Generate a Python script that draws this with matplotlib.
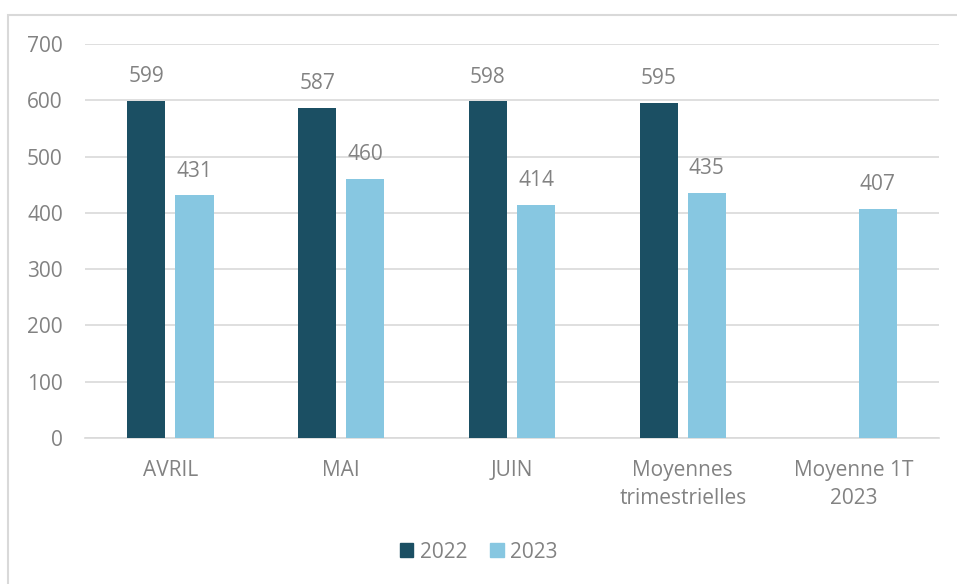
import matplotlib
matplotlib.use("Agg")
import matplotlib.pyplot as plt
import numpy as np
from matplotlib.patches import Rectangle, Patch

categories = ["AVRIL", "MAI", "JUIN", "Moyennes\ntrimestrielles", "Moyenne 1T\n2023"]
values_2022 = [599, 587, 598, 595, np.nan]
values_2023 = [431, 460, 414, 435, 407]
series_labels = ["2022", "2023"]
yticks = [0, 100, 200, 300, 400, 500, 600, 700]

c2022 = "#1b4f63"
c2023 = "#87c7e1"
tcol = "#828282"
plt.rcParams['font.family'] = ['Open Sans', 'DejaVu Sans']
FS = 15

W, H = 957, 584
fig = plt.figure(figsize=(W/100, H/100), dpi=100)
ax = fig.add_axes([85/W, 1 - 438/H, (939-85)/W, (438-44)/H])

fig.patches.append(Rectangle((8/W, -0.1), 1.2, 1 - 15/H + 0.1, transform=fig.transFigure,
                             fill=False, edgecolor="#d9d9d9", linewidth=1.5))

x = np.arange(len(categories))
bw = 0.223
off = 0.141
b1 = ax.bar(x - off, values_2022, bw, color=c2022, label=series_labels[0], zorder=3)
b2 = ax.bar(x + off, values_2023, bw, color=c2023, label=series_labels[1], zorder=3)

for bars, vals in ((b1, values_2022), (b2, values_2023)):
    for rect, v in zip(bars, vals):
        if np.isnan(v):
            continue
        ax.annotate(f"{v:.0f}", (rect.get_x() + rect.get_width()/2, v), xytext=(0, 10),
                    textcoords="offset points", ha="center", va="bottom",
                    fontsize=FS, color=tcol)

ax.set_xlim(-0.5, len(categories) - 0.5)
ax.set_ylim(0, 700)
ax.set_yticks(yticks)
ax.set_yticklabels([str(t) for t in yticks], fontsize=FS, color=tcol)
ax.set_xticks(x)
ax.set_xticklabels(categories, fontsize=FS, color=tcol, linespacing=1.45)
ax.tick_params(axis="both", length=0)
ax.tick_params(axis="y", pad=16)
ax.tick_params(axis="x", pad=16)
ax.grid(axis="y", color="#d9d9d9", linewidth=1.2, zorder=0)
for s in ["top", "right", "left"]:
    ax.spines[s].set_visible(False)
ax.spines["bottom"].set_color("#d9d9d9")
ax.spines["bottom"].set_linewidth(1.2)

handles = [Patch(color=c2022), Patch(color=c2023)]
leg = fig.legend(handles, series_labels, loc="center", bbox_to_anchor=(0.5, 1 - 552/H), ncol=2,
                 frameon=False, fontsize=FS, handlelength=0.65, handleheight=0.65,
                 handletextpad=0.3, columnspacing=1.1)
for t in leg.get_texts():
    t.set_color(tcol)

fig.savefig("out.png", dpi=100)
